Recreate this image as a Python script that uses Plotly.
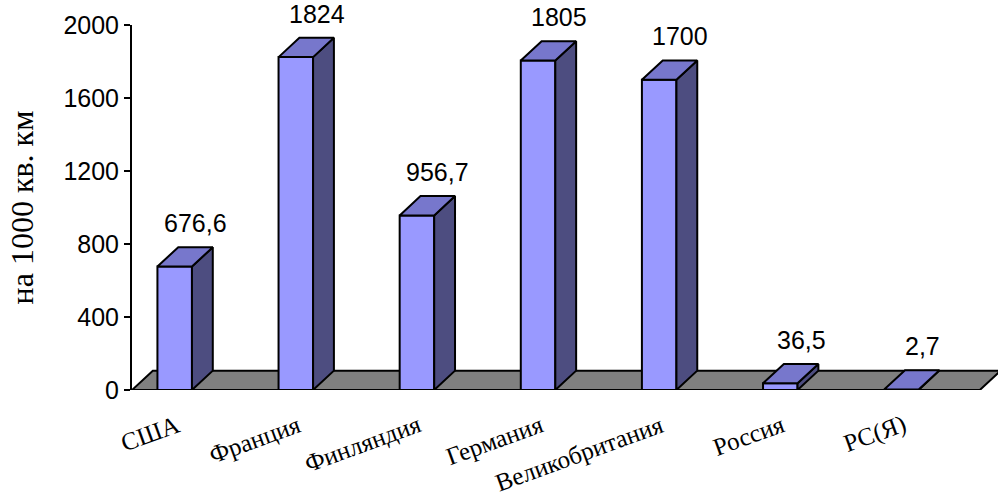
import plotly.graph_objects as go

# Density values per country (per 1000 sq. km)
categories = ["США", "Франция", "Финляндия", "Германия", "Великобритания", "Россия", "РС(Я)"]
values = [676.6, 1824, 956.7, 1805, 1700, 36.5, 2.7]
value_labels = ["676,6", "1824", "956,7", "1805", "1700", "36,5", "2,7"]
y_ticks = [0, 400, 800, 1200, 1600, 2000]

# pseudo-3D geometry in axis units
DX = 0.172      # depth offset along x
DY = 106        # depth offset along y
BAR_X0 = 0.21   # front face start within a category slot
BAR_W = 0.285   # front face width

FRONT = "#9999FF"
TOP = "#7777CC"
SIDE = "#4D4D80"
FLOOR = "#808080"
EDGE = dict(color="black", width=2)

fig = go.Figure()


def face(xs, ys, color):
    fig.add_trace(go.Scatter(
        x=xs + [xs[0]], y=ys + [ys[0]], mode="lines", fill="toself",
        fillcolor=color, line=EDGE, hoverinfo="skip", showlegend=False))


# floor
n = len(categories)
face([0, n, n + DX, DX], [0, 0, DY, DY], FLOOR)

# bars: front, side and top faces
for i, v in enumerate(values):
    x0 = i + BAR_X0
    x1 = x0 + BAR_W
    face([x0, x1, x1, x0], [0, 0, v, v], FRONT)
    face([x1, x1 + DX, x1 + DX, x1], [0, DY, v + DY, v], SIDE)
    face([x0, x1, x1 + DX, x0 + DX], [v, v, v + DY, v + DY], TOP)

annotations = []
for i, (v, lab) in enumerate(zip(values, value_labels)):
    annotations.append(dict(
        x=i + BAR_X0 + BAR_W / 2 + DX, y=v + DY, text=lab, showarrow=False,
        xanchor="center", yanchor="middle", yshift=24,
        font=dict(family="Liberation Sans, Arial", size=25, color="black")))

for i, c in enumerate(categories):
    annotations.append(dict(
        x=i + 0.43, y=0, yshift=-19, text=c, showarrow=False, textangle=-20,
        xanchor="right", yanchor="top", borderpad=0,
        font=dict(family="Liberation Serif, Times New Roman", size=25, color="black")))

fig.update_layout(
    width=998, height=500,
    margin=dict(l=132, r=0, t=25, b=110),
    paper_bgcolor="white", plot_bgcolor="white",
    annotations=annotations,
    xaxis=dict(range=[0, 7.15], visible=False, fixedrange=True),
    yaxis=dict(
        range=[0, 2000], tickvals=y_ticks, ticktext=[str(t) for t in y_ticks],
        showgrid=False, zeroline=False, showline=True, linecolor="black", linewidth=2,
        ticks="outside", ticklen=6, tickwidth=2, tickcolor="black",
        tickfont=dict(family="Liberation Sans, Arial", size=25, color="black"),
        title=dict(text="на 1000 кв. км", standoff=20,
                   font=dict(family="Liberation Serif, Times New Roman", size=32, color="black")),
    ),
)

fig.write_html("out.html")
